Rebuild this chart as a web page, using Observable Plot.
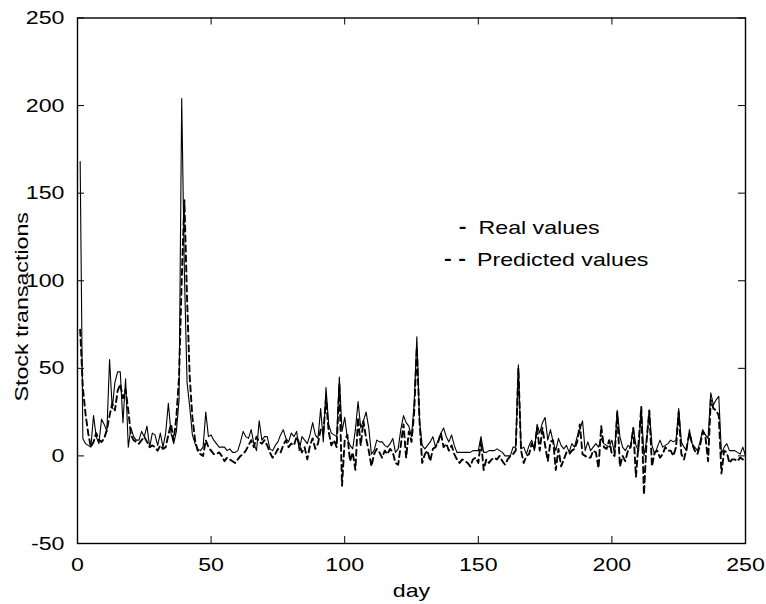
<!DOCTYPE html>
<html>
<head>
<meta charset="utf-8">
<script src="https://cdn.jsdelivr.net/npm/d3@7"></script>
<script src="https://cdn.jsdelivr.net/npm/@observablehq/plot@0.6"></script>
<style>
  html, body { margin: 0; padding: 0; background: white; }
</style>
</head>
<body>
<div id="chart"></div>
<script>
const xTicks = [0, 50, 100, 150, 200, 250];
const yTicks = [-50, 0, 50, 100, 150, 200, 250];
const xLabel = "day";
const yLabel = "Stock transactions";
const seriesNames = ["Real values", "Predicted values"];

const days = d3.range(1, 251);

const real = [
  168,10,7,6,5,23,11,7,21,18,
  14,55,27,42,48,48,19,44,5,16,
  11,9,9,14,11,17,5,13,12,6,
  13,5,13,30,13,7,14,32,204,105,
  42,28,12,7,4,3,5,25,11,12,
  9,7,5,5,5,3,4,2,2,3,
  8,14,11,10,15,7,3,20,9,11,
  11,4,3,6,8,12,15,10,8,13,
  11,14,3,11,9,7,12,19,12,10,
  27,8,39,18,13,12,11,45,14,22,
  10,6,4,15,31,16,20,25,16,1,
  3,9,8,8,6,5,7,10,2,4,
  15,23,19,17,11,30,68,20,6,4,
  6,8,11,5,9,13,16,11,8,12,
  6,2,2,2,2,2,2,3,3,3,
  11,2,2,3,3,3,4,3,2,0,
  0,0,5,5,52,4,5,1,6,9,
  3,18,13,19,22,9,15,8,3,10,
  6,4,6,2,7,5,11,15,20,3,
  8,3,5,7,5,10,7,6,5,9,
  1,26,11,5,3,6,5,16,6,3,
  27,0,9,26,6,1,5,9,5,6,
  7,9,8,9,27,8,5,3,15,7,
  5,3,8,15,12,10,36,29,32,34,
  1,5,7,3,3,3,2,1,5,0
];

const predicted = [
  72,39,24,13,5,8,13,9,8,10,
  15,23,30,26,37,41,33,38,26,12,
  9,8,7,9,11,8,5,6,5,3,
  6,4,5,12,18,9,22,45,100,146,
  90,45,22,9,3,1,0,9,5,3,
  1,1,2,0,-3,-1,-2,-3,-4,-2,
  0,1,3,6,9,5,11,8,7,9,
  6,2,-1,1,4,2,6,9,5,7,
  6,11,7,2,5,-2,6,10,4,7,
  15,13,33,14,6,9,5,41,-17,9,
  12,-3,2,-8,22,6,20,10,3,-6,
  1,4,2,-1,3,1,4,2,-4,-5,
  6,18,-1,14,8,25,62,20,-4,1,
  3,-3,4,5,8,13,5,7,3,6,
  1,-2,-4,-2,-3,-4,-6,-2,-1,-4,
  9,-8,-2,-4,-2,-1,-2,0,-3,-5,
  -2,0,1,3,50,3,-4,0,1,7,
  4,16,3,16,6,-3,8,9,-8,4,
  -6,-2,2,1,3,4,8,18,1,0,
  -1,-1,3,2,-7,17,5,4,9,1,
  0,25,-6,0,-3,3,5,16,-12,8,
  28,-22,9,26,-6,2,3,-1,1,5,
  3,3,0,5,25,1,-2,5,13,7,
  3,1,6,14,11,-3,32,27,26,23,
  -10,3,2,-4,-2,-2,-3,-1,-2,-1
];

const data = days.map((d, i) => ({day: d, real: real[i], pred: predicted[i]}));

const font = "'Liberation Sans', Arial, Helvetica, sans-serif";
const W = 766, H = 604, mL = 77, mR = 21, mT = 17.5, mB = 61;
const frameW = W - mL - mR, frameH = H - mT - mB, tick = 7;
const stretch = 1.22;

const chart = Plot.plot({
  width: W,
  height: H,
  marginLeft: mL,
  marginRight: mR,
  marginTop: mT,
  marginBottom: mB,
  style: {fontFamily: font, fontSize: "19px", background: "white", color: "black", overflow: "visible"},
  x: {domain: [0, 250], ticks: xTicks, tickSize: 0, tickPadding: 14, tickFormat: d => String(d), label: null},
  y: {domain: [-50, 250], ticks: yTicks, tickSize: 0, tickPadding: 13, tickFormat: d => String(d), label: null},
  marks: [
    Plot.line(data, {x: "day", y: "real", stroke: "black", strokeWidth: 1.1}),
    Plot.line(data, {x: "day", y: "pred", stroke: "black", strokeWidth: 1.9, strokeDasharray: "6,4"}),
    // inward ticks on all four sides
    Plot.tickX(xTicks, {x: d => d, insetTop: frameH - tick, stroke: "black", strokeWidth: 1}),
    Plot.tickX(xTicks, {x: d => d, insetBottom: frameH - tick, stroke: "black", strokeWidth: 1}),
    Plot.tickY(yTicks, {y: d => d, insetRight: frameW - tick, stroke: "black", strokeWidth: 1}),
    Plot.tickY(yTicks, {y: d => d, insetLeft: frameW - tick, stroke: "black", strokeWidth: 1}),
    Plot.frame({stroke: "black", strokeWidth: 1.4}),
    Plot.text([xLabel], {text: d => d, frameAnchor: "bottom", dy: 47, textAnchor: "middle", lineAnchor: "middle", fill: "black"}),
    Plot.text([yLabel], {text: d => d, frameAnchor: "left", rotate: -90, dx: -56, dy: 26, textAnchor: "middle", lineAnchor: "middle", fill: "black"}),
    Plot.text(["-"], {text: d => d, frameAnchor: "top-left", dx: 385, dy: 209, textAnchor: "middle", lineAnchor: "middle", fill: "black", fontWeight: "bold"}),
    Plot.text([seriesNames[0]], {text: d => d, frameAnchor: "top-left", dx: 401, dy: 210, textAnchor: "start", lineAnchor: "middle", fill: "black"}),
    Plot.text(["- -"], {text: d => d, frameAnchor: "top-left", dx: 377.5, dy: 241, textAnchor: "middle", lineAnchor: "middle", fill: "black", fontWeight: "bold"}),
    Plot.text([seriesNames[1]], {text: d => d, frameAnchor: "top-left", dx: 399.5, dy: 242, textAnchor: "start", lineAnchor: "middle", fill: "black"})
  ]
});

document.getElementById("chart").appendChild(chart);

// The reference font is wider than Liberation Sans: stretch glyphs along the text.
chart.querySelectorAll("text").forEach(t => {
  const tr = t.getAttribute("transform") || "";
  if (tr.includes("rotate")) {
    t.setAttribute("transform", tr + ` scale(${stretch},1)`);
    return;
  }
  const len = t.getComputedTextLength();
  if (len > 0) {
    t.setAttribute("textLength", (len * stretch).toFixed(2));
    t.setAttribute("lengthAdjust", "spacingAndGlyphs");
  }
});
</script>
</body>
</html>
